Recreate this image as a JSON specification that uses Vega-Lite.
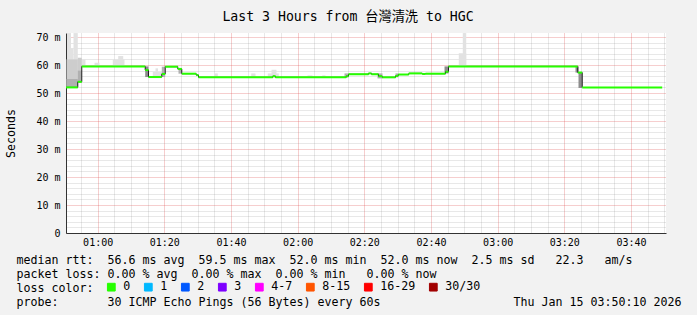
{
  "$schema": "https://vega.github.io/schema/vega-lite/v6.json",
  "width": 600,
  "height": 200,
  "autosize": {"type": "none"},
  "padding": {"left": 66, "top": 33, "right": 31, "bottom": 82},
  "background": "#f2f2f2",
  "config": {"view": {"fill": "#ffffff", "stroke": null}},
  "title": {
    "text": "Last 3 Hours from 台灣清洗 to HGC",
    "font": "DejaVu Sans Mono, Noto Sans CJK TC",
    "fontSize": 13.2,
    "fontWeight": "normal",
    "color": "#000000",
    "anchor": "middle",
    "frame": "group",
    "dx": -18,
    "offset": -2,
    "baseline": "alphabetic"
  },
  "datasets": {
    "median": [
      {"t0": "2026-01-15T00:50:30", "t1": "2026-01-15T00:54:02", "ms": 52.0, "loss": "0"},
      {"t0": "2026-01-15T00:54:02", "t1": "2026-01-15T00:55:14", "ms": 54.0, "loss": "0"},
      {"t0": "2026-01-15T00:55:14", "t1": "2026-01-15T01:14:16", "ms": 59.5, "loss": "0"},
      {"t0": "2026-01-15T01:14:16", "t1": "2026-01-15T01:15:15", "ms": 58.2, "loss": "0"},
      {"t0": "2026-01-15T01:15:15", "t1": "2026-01-15T01:19:14", "ms": 55.7, "loss": "0"},
      {"t0": "2026-01-15T01:19:14", "t1": "2026-01-15T01:20:16", "ms": 56.8, "loss": "0"},
      {"t0": "2026-01-15T01:20:16", "t1": "2026-01-15T01:24:02", "ms": 59.4, "loss": "0"},
      {"t0": "2026-01-15T01:24:02", "t1": "2026-01-15T01:25:14", "ms": 58.6, "loss": "0"},
      {"t0": "2026-01-15T01:25:14", "t1": "2026-01-15T01:29:34", "ms": 56.9, "loss": "0"},
      {"t0": "2026-01-15T01:29:34", "t1": "2026-01-15T01:30:15", "ms": 56.4, "loss": "0"},
      {"t0": "2026-01-15T01:30:15", "t1": "2026-01-15T01:52:32", "ms": 55.6, "loss": "0"},
      {"t0": "2026-01-15T01:52:32", "t1": "2026-01-15T01:53:20", "ms": 56.0, "loss": "0"},
      {"t0": "2026-01-15T01:53:20", "t1": "2026-01-15T02:14:34", "ms": 55.6, "loss": "0"},
      {"t0": "2026-01-15T02:14:34", "t1": "2026-01-15T02:15:15", "ms": 56.0, "loss": "0"},
      {"t0": "2026-01-15T02:15:15", "t1": "2026-01-15T02:21:15", "ms": 56.7, "loss": "0"},
      {"t0": "2026-01-15T02:21:15", "t1": "2026-01-15T02:22:09", "ms": 57.0, "loss": "0"},
      {"t0": "2026-01-15T02:22:09", "t1": "2026-01-15T02:24:15", "ms": 56.7, "loss": "0"},
      {"t0": "2026-01-15T02:24:15", "t1": "2026-01-15T02:25:22", "ms": 56.0, "loss": "0"},
      {"t0": "2026-01-15T02:25:22", "t1": "2026-01-15T02:29:21", "ms": 55.6, "loss": "0"},
      {"t0": "2026-01-15T02:29:21", "t1": "2026-01-15T02:30:10", "ms": 56.1, "loss": "0"},
      {"t0": "2026-01-15T02:30:10", "t1": "2026-01-15T02:33:20", "ms": 56.6, "loss": "0"},
      {"t0": "2026-01-15T02:33:20", "t1": "2026-01-15T02:37:22", "ms": 57.0, "loss": "0"},
      {"t0": "2026-01-15T02:37:22", "t1": "2026-01-15T02:38:21", "ms": 56.8, "loss": "0"},
      {"t0": "2026-01-15T02:38:21", "t1": "2026-01-15T02:44:21", "ms": 56.9, "loss": "0"},
      {"t0": "2026-01-15T02:44:21", "t1": "2026-01-15T02:45:15", "ms": 57.6, "loss": "0"},
      {"t0": "2026-01-15T02:45:15", "t1": "2026-01-15T03:24:02", "ms": 59.5, "loss": "0"},
      {"t0": "2026-01-15T03:24:02", "t1": "2026-01-15T03:25:22", "ms": 57.3, "loss": "0"},
      {"t0": "2026-01-15T03:25:22", "t1": "2026-01-15T03:49:22", "ms": 52.0, "loss": "0"}
    ],
    "smoke": [
      {"t0": "2026-01-15T00:50:48", "t1": "2026-01-15T00:52:00", "ms": 52.0, "hi": 71.4, "shade": "light"},
      {"t0": "2026-01-15T00:52:00", "t1": "2026-01-15T00:52:45", "ms": 52.0, "hi": 66.0, "shade": "light"},
      {"t0": "2026-01-15T00:52:45", "t1": "2026-01-15T00:54:02", "ms": 52.0, "hi": 71.4, "shade": "light"},
      {"t0": "2026-01-15T00:55:14", "t1": "2026-01-15T00:56:21", "ms": 59.5, "hi": 62.0, "shade": "light"},
      {"t0": "2026-01-15T00:59:03", "t1": "2026-01-15T01:00:33", "ms": 59.5, "hi": 60.8, "shade": "light"},
      {"t0": "2026-01-15T01:04:32", "t1": "2026-01-15T01:08:03", "ms": 59.5, "hi": 62.0, "shade": "light"},
      {"t0": "2026-01-15T01:06:10", "t1": "2026-01-15T01:07:40", "ms": 59.5, "hi": 63.2, "shade": "light"},
      {"t0": "2026-01-15T01:16:32", "t1": "2026-01-15T01:19:14", "ms": 55.7, "hi": 57.5, "shade": "light"},
      {"t0": "2026-01-15T01:17:21", "t1": "2026-01-15T01:18:06", "ms": 55.7, "hi": 58.8, "shade": "light"},
      {"t0": "2026-01-15T01:35:03", "t1": "2026-01-15T01:36:02", "ms": 55.6, "hi": 57.0, "shade": "light"},
      {"t0": "2026-01-15T01:46:04", "t1": "2026-01-15T01:47:21", "ms": 55.6, "hi": 57.0, "shade": "light"},
      {"t0": "2026-01-15T01:51:02", "t1": "2026-01-15T01:54:20", "ms": 55.6, "hi": 57.0, "shade": "light"},
      {"t0": "2026-01-15T01:52:09", "t1": "2026-01-15T01:53:39", "ms": 55.6, "hi": 58.3, "shade": "light"},
      {"t0": "2026-01-15T02:02:57", "t1": "2026-01-15T02:04:27", "ms": 55.6, "hi": 56.3, "shade": "light"},
      {"t0": "2026-01-15T02:07:22", "t1": "2026-01-15T02:08:21", "ms": 55.6, "hi": 56.3, "shade": "light"},
      {"t0": "2026-01-15T02:48:20", "t1": "2026-01-15T02:50:34", "ms": 59.5, "hi": 64.2, "shade": "light"},
      {"t0": "2026-01-15T02:49:32", "t1": "2026-01-15T02:50:34", "ms": 59.5, "hi": 71.4, "shade": "light"},
      {"t0": "2026-01-15T00:50:39", "t1": "2026-01-15T00:54:02", "ms": 52.0, "hi": 62.0, "shade": "mid"},
      {"t0": "2026-01-15T00:54:02", "t1": "2026-01-15T00:55:14", "ms": 54.0, "hi": 62.6, "shade": "mid"},
      {"t0": "2026-01-15T00:50:39", "t1": "2026-01-15T00:54:02", "ms": 52.0, "hi": 55.0, "shade": "midd"},
      {"t0": "2026-01-15T00:54:02", "t1": "2026-01-15T00:55:14", "ms": 54.0, "hi": 58.0, "shade": "midd"},
      {"t0": "2026-01-15T01:19:14", "t1": "2026-01-15T01:20:16", "ms": 55.7, "hi": 59.4, "shade": "midd"},
      {"t0": "2026-01-15T01:24:15", "t1": "2026-01-15T01:25:14", "ms": 56.9, "hi": 58.6, "shade": "midd"},
      {"t0": "2026-01-15T02:14:03", "t1": "2026-01-15T02:15:15", "ms": 55.6, "hi": 57.0, "shade": "midd"},
      {"t0": "2026-01-15T02:23:57", "t1": "2026-01-15T02:25:27", "ms": 55.2, "hi": 57.0, "shade": "midd"},
      {"t0": "2026-01-15T02:29:21", "t1": "2026-01-15T02:30:10", "ms": 55.6, "hi": 57.0, "shade": "midd"},
      {"t0": "2026-01-15T01:14:16", "t1": "2026-01-15T01:15:15", "ms": 55.7, "hi": 59.5, "shade": "dark"},
      {"t0": "2026-01-15T02:44:03", "t1": "2026-01-15T02:45:15", "ms": 57.0, "hi": 59.5, "shade": "dark"},
      {"t0": "2026-01-15T03:23:21", "t1": "2026-01-15T03:24:15", "ms": 57.3, "hi": 59.5, "shade": "dark"},
      {"t0": "2026-01-15T03:24:15", "t1": "2026-01-15T03:25:22", "ms": 51.8, "hi": 57.3, "shade": "dark"}
    ]
  },
  "encoding": {
    "x": {
      "field": "t0", "type": "temporal",
      "scale": {"domain": [{"year": 2026, "month": 1, "date": 15, "hours": 0, "minutes": 50, "seconds": 30}, {"year": 2026, "month": 1, "date": 15, "hours": 3, "minutes": 50, "seconds": 30}]},
      "axis": {
        "orient": "bottom", "grid": true, "tickCount": 36,
        "gridColor": {"condition": {"test": "minutes(datum.value) % 20 === 0", "value": "#de4f4f"}, "value": "#8f8f8f"},
        "gridOpacity": {"condition": {"test": "minutes(datum.value) % 20 === 0", "value": 0.55}, "value": 0.4},
        "gridDash": [1, 1],
        "labelExpr": "minutes(datum.value) % 20 === 0 ? timeFormat(datum.value, '%H:%M') : ''",
        "labelFont": "DejaVu Sans Mono", "labelFontSize": 10, "labelColor": "#000000", "labelPadding": 4, "labelOverlap": false, "labelFlush": false,
        "ticks": false, "domain": true, "domainColor": "#333333",
        "title": [
          "median rtt:\u00a0\u00a056.6 ms avg\u00a0\u00a059.5 ms max\u00a0\u00a052.0 ms min\u00a0\u00a052.0 ms now\u00a0\u00a02.5 ms sd\u00a0\u00a0\u00a022.3\u00a0\u00a0\u00a0am/s",
          "packet loss: 0.00 % avg\u00a0\u00a00.00 % max\u00a0\u00a00.00 % min\u00a0\u00a0\u00a00.00 % now",
          "loss color:",
          "probe:\u00a0\u00a0\u00a0\u00a0\u00a0\u00a0\u00a030 ICMP Echo Pings (56 Bytes) every 60s\u00a0\u00a0\u00a0\u00a0\u00a0\u00a0\u00a0\u00a0\u00a0\u00a0\u00a0\u00a0\u00a0\u00a0\u00a0\u00a0\u00a0\u00a0\u00a0Thu Jan 15 03:50:10 2026"
        ],
        "titleFont": "DejaVu Sans Mono", "titleFontSize": 11.63, "titleFontWeight": "normal", "titleColor": "#000000",
        "titleAlign": "left", "titleBaseline": "alphabetic", "titleX": -50, "titleY": 30.5, "titleLineHeight": 13.9
      }
    },
    "y": {
      "field": "ms", "type": "quantitative",
      "scale": {"domain": [0, 71.43], "nice": false},
      "axis": {
        "orient": "left", "grid": true, "tickCount": 36,
        "gridColor": {"condition": {"test": "datum.value % 10 === 0", "value": "#de4f4f"}, "value": "#8f8f8f"},
        "gridOpacity": {"condition": {"test": "datum.value % 10 === 0", "value": 0.55}, "value": 0.4},
        "gridDash": [1, 1],
        "labelExpr": "datum.value % 10 !== 0 ? '' : (datum.value === 0 ? '0' : datum.value + ' m')",
        "labelFont": "DejaVu Sans Mono", "labelFontSize": 10, "labelColor": "#000000", "labelPadding": 6, "labelOverlap": false, "labelFlush": false,
        "ticks": false, "domain": true, "domainColor": "#333333",
        "title": "Seconds", "titleFont": "DejaVu Sans Mono", "titleFontSize": 11.63, "titleFontWeight": "normal", "titleColor": "#000000",
        "titleAngle": -90, "titleX": -54.5, "titleY": 100, "titleAlign": "center", "titleBaseline": "middle"
      }
    }
  },
  "layer": [
    {
      "data": {"name": "smoke"},
      "mark": {"type": "rect"},
      "encoding": {
        "x2": {"field": "t1"},
        "y2": {"field": "hi"},
        "fill": {
          "field": "shade", "type": "nominal",
          "scale": {"domain": ["light", "mid", "midd", "dark"], "range": ["#e2e2e2", "#cdcdcd", "#b0b0b0", "#8c8c8c"]},
          "legend": null
        }
      }
    },
    {
      "data": {"name": "median"},
      "mark": {"type": "line", "interpolate": "step-after", "stroke": "#202020", "strokeWidth": 1}
    },
    {
      "data": {"name": "median"},
      "mark": {"type": "rule", "strokeWidth": 2},
      "encoding": {
        "x2": {"field": "t1"},
        "stroke": {
          "field": "loss", "type": "nominal",
          "scale": {"domain": ["0", "1", "2", "3", "4-7", "8-15", "16-29", "30/30"], "range": ["#26ff00", "#00b8ff", "#0059ff", "#7e00ff", "#ff00ff", "#ff5500", "#ff0000", "#a10000"]},
          "legend": {
            "orient": "none", "legendX": 39.5, "legendY": 248.2, "direction": "horizontal", "columns": 8, "title": null,
            "padding": 0, "symbolType": "square", "symbolSize": 60, "symbolStrokeWidth": 1,
            "labelFont": "DejaVu Sans Mono", "labelFontSize": 11.63, "labelColor": "#000000", "labelOffset": 6, "columnPadding": 11,
            "encode": {"symbols": {"update": {"fill": {"scale": "stroke", "field": "value"}, "stroke": {"value": "#000000"}, "fillOpacity": {"value": 1}}}}
          }
        }
      }
    }
  ]
}
